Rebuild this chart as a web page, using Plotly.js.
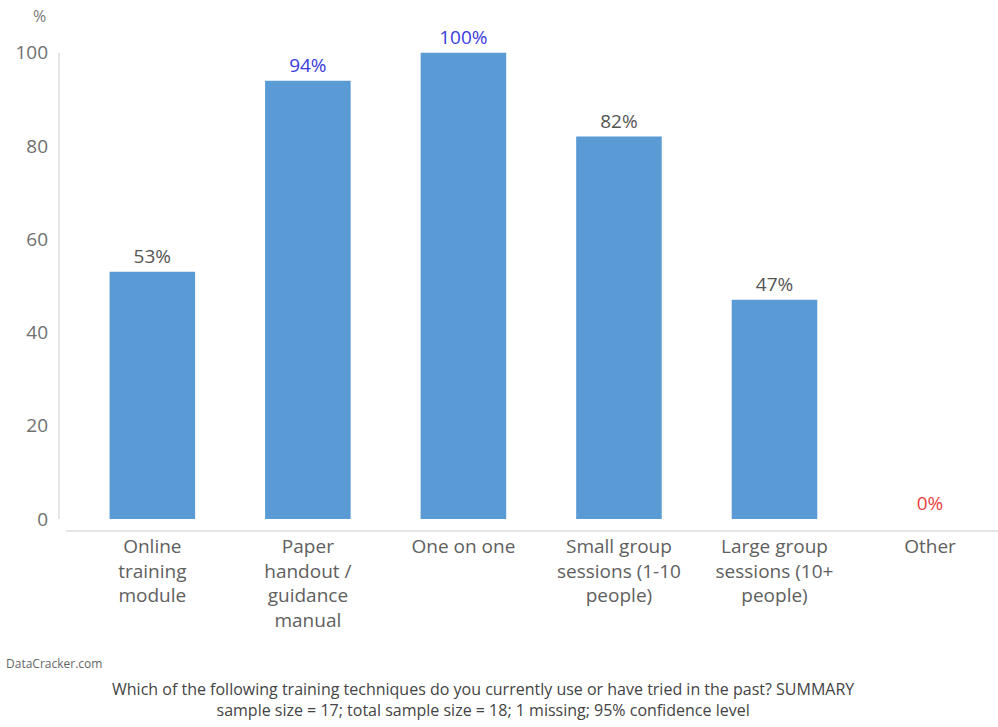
<!DOCTYPE html>
<html>
<head>
<meta charset="utf-8">
<script src="https://cdn.plot.ly/plotly-3.0.1.min.js"></script>
<style>body{margin:0;background:#fff}#chart{width:998px;height:727px}</style>
</head>
<body>
<div id="chart"></div>
<script>
const categories = ["Online<br>training<br>module", "Paper<br>handout /<br>guidance<br>manual", "One on one", "Small group<br>sessions (1-10<br>people)", "Large group<br>sessions (10+<br>people)", "Other"];
const values = [53, 94, 100, 82, 47, 0];
const labels = ["53%", "94%", "100%", "82%", "47%", "0%"];
const labelColors = ["#555555", "#3b3bdc", "#3b3bdc", "#555555", "#555555", "#e8413f"];
const yTicks = [0, 20, 40, 60, 80, 100];

const trace = {
  type: "bar",
  x: categories,
  y: values,
  text: labels,
  textposition: "outside",
  cliponaxis: false,
  textfont: {family: "Open Sans, sans-serif", size: 19, color: labelColors},
  marker: {color: "#5B9BD5"},
  width: 0.55,
  hoverinfo: "none"
};

const layout = {
  width: 998, height: 727,
  margin: {l: 59, r: 0, t: 48, b: 196},
  paper_bgcolor: "#fff", plot_bgcolor: "#fff",
  showlegend: false,
  font: {family: "Open Sans, sans-serif", color: "#555"},
  xaxis: {
    range: [-0.6, 5.437],
    showgrid: false, zeroline: false,
    showline: false,
    tickfont: {size: 19, color: "#606060"},
    ticks: "", ticklabelstandoff: 2
  },
  yaxis: {
    range: [-2.6, 101],
    tickvals: yTicks,
    showgrid: false, zeroline: false, showline: false,
    tickfont: {size: 19, color: "#707070"},
    ticks: "", ticklabelstandoff: 10
  },
  shapes: [
    {type: "line", xref: "paper", x0: 0, x1: 0, yref: "y", y0: 0, y1: 100, line: {color: "#e6e6e6", width: 2}},
    {type: "line", xref: "paper", x0: 0.007, x1: 1, yref: "paper", y0: 0, y1: 0, line: {color: "#e6e6e6", width: 2}}
  ],
  annotations: [
    {text: "%", xref: "paper", yref: "paper", x: -0.012, y: 1.04, xanchor: "right", yanchor: "bottom", showarrow: false, font: {size: 16, color: "#777"}},
    {text: "DataCracker.com", xref: "paper", yref: "paper", x: -0.059, y: -0.275, xanchor: "left", yanchor: "middle", showarrow: false, font: {size: 12, color: "#666"}},
    {text: "Which of the following training techniques do you currently use or have tried in the past? SUMMARY<br>sample size = 17; total sample size = 18; 1 missing; 95% confidence level", xref: "paper", yref: "paper", x: 0.452, y: -0.348, xanchor: "center", yanchor: "middle", align: "center", showarrow: false, font: {size: 16, color: "#444"}}
  ]
};

Plotly.newPlot("chart", [trace], layout, {displayModeBar: false, staticPlot: true});
</script>
</body>
</html>
